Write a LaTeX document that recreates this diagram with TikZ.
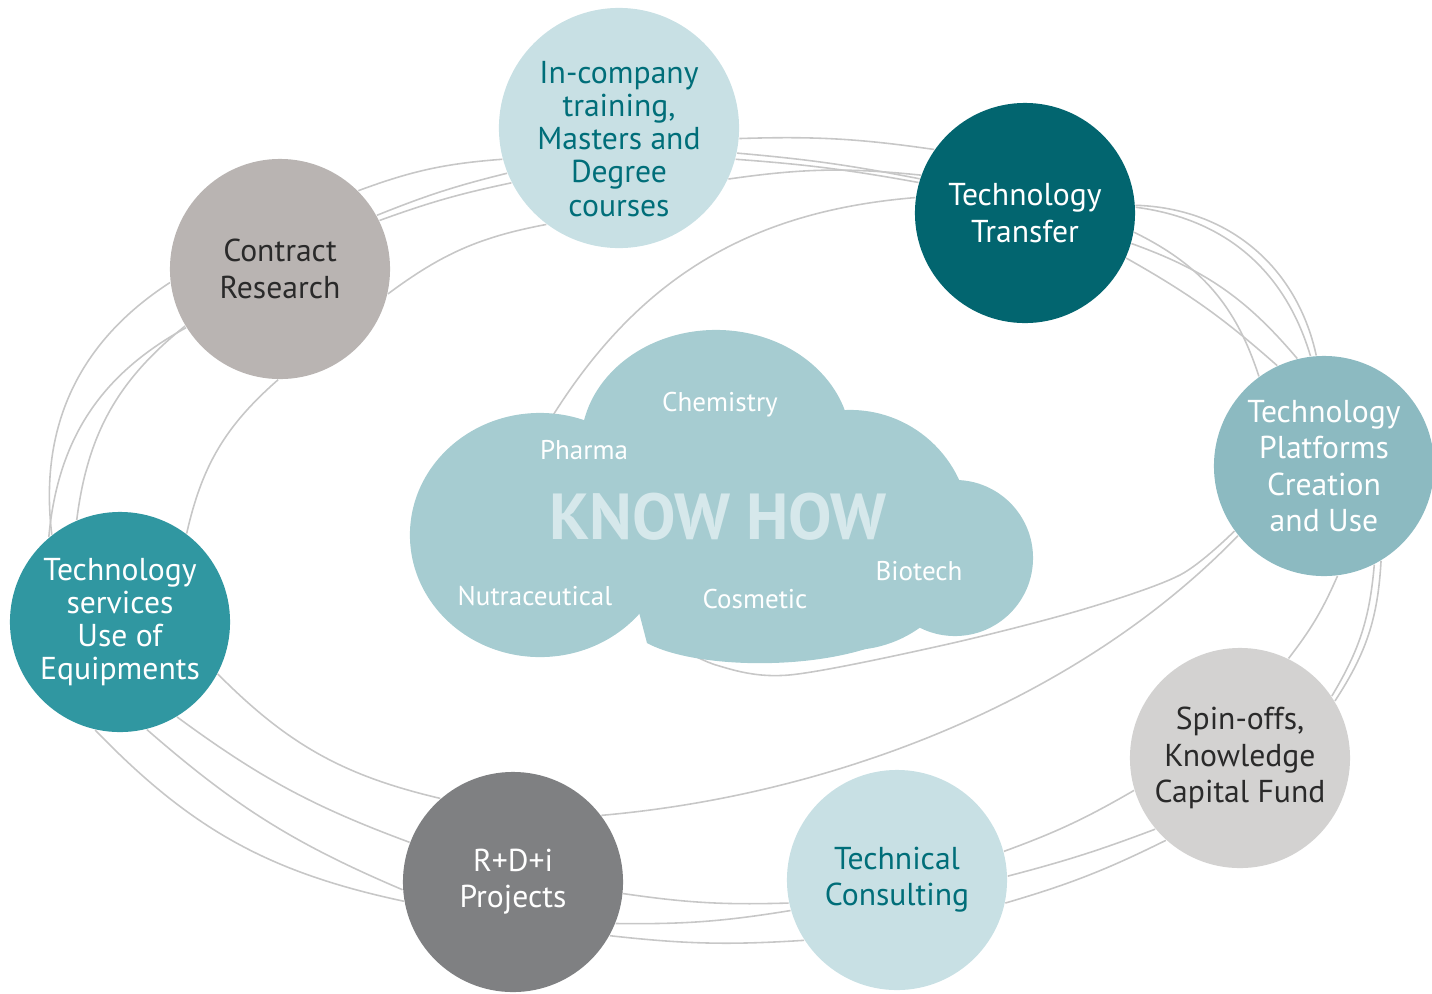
\documentclass[tikz,border=0pt]{standalone}
\usepackage{fontspec}
\setmainfont{PT Sans}
\usepackage{tikz}
\usetikzlibrary{backgrounds}

\definecolor{cloudblue}{HTML}{A6CCD1}
\definecolor{paleblue}{HTML}{C8E0E4}
\definecolor{deepteal}{HTML}{02656F}
\definecolor{midteal}{HTML}{3097A1}
\definecolor{softteal}{HTML}{8CBAC1}
\definecolor{warmgrey}{HTML}{B9B4B2}
\definecolor{lightgrey}{HTML}{D3D2D1}
\definecolor{darkgrey}{HTML}{7F8082}
\definecolor{inkteal}{HTML}{006E79}
\definecolor{inkgrey}{HTML}{2A2A2A}
\definecolor{knowhow}{HTML}{D6E8EB}

\begin{document}
\begin{tikzpicture}[x=0.01cm,y=-0.01cm,
		orbit/.style={draw=black!22,line width=0.45pt},
		bubble/.style={circle,minimum size=2.2cm,inner sep=0pt,align=center,font=\fontsize{9}{10.3}\selectfont},
		field/.style={text=white,font=\fontsize{7.7}{9}\selectfont}]
	\useasboundingbox (0,0) rectangle (1432,993);
	\node[bubble,fill=paleblue,minimum size=2.4cm] (train) at (619,128) {};
	\node[text=inkteal,align=center,font=\fontsize{9}{9.4}\selectfont] (trainlabel) at (619,139) {In-company\\training,\\Masters and\\Degree\\courses};
	\node[bubble,fill=deepteal,text=white] (transfer) at (1025,213) {Technology\\Transfer};
	\node[bubble,fill=warmgrey,text=inkgrey] (contract) at (280,269) {Contract\\Research};
	\node[bubble,fill=softteal,text=white] (platforms) at (1324,466) {Technology\\Platforms\\Creation\\and Use};
	\node[bubble,fill=midteal,text=white,font=\fontsize{9}{9.4}\selectfont] (services) at (120,622) {Technology\\services\\Use of\\Equipments};
	\node[bubble,fill=lightgrey,text=inkgrey] (spinoffs) at (1240,758) {Spin-offs,\\Knowledge\\Capital Fund};
	\node[bubble,fill=paleblue,text=inkteal] (consulting) at (897,880) {Technical\\Consulting};
	\node[bubble,fill=darkgrey,text=white] (projects) at (513,882) {R+D+i\\Projects};
	\begin{scope}[on background layer]
		\draw[orbit] (services.128) to[bend left=32] (contract.187);
		\draw[orbit] (services.130) to[bend left=28] (contract.212);
		\draw[orbit] (services.113) to[bend left=22] (contract.211);
		\draw[orbit] (services.53) to[bend left=18] (contract.269);
		\draw[orbit] (contract.45) to[bend left=8] (train.195);
		\draw[orbit] (contract.29) to[bend left=4] (train.202);
		\draw[orbit] (contract.26) to[bend left=4] (train.207);
		\draw[orbit] (contract.-13) to[bend left=13] (train.233);
		\draw[orbit] (train.-5) to[bend left=5] (transfer.145);
		\draw[orbit] (train.-12) to[bend left=3] (transfer.162);
		\draw[orbit] (train.-15) to[bend left=3] (transfer.164);
		\draw[orbit] (train.-25) to[bend left=7] (transfer.160);
		\draw[orbit] (547,425) to[bend left=27] (transfer.172);
		\draw[orbit] (transfer.4) to[bend left=38] (platforms.94);
		\draw[orbit] (transfer.3) to[bend left=33] (platforms.97);
		\draw[orbit] (transfer.-10) to[bend left=23] (platforms.126);
		\draw[orbit] (transfer.-16) to[bend left=15] (platforms.104);
		\draw[orbit] (transfer.-24) to[bend left=6] (platforms.115);
		\draw[orbit] (platforms.-59) to[bend left=15] (spinoffs.31);
		\draw[orbit] (platforms.-63) to[bend left=13] (spinoffs.34);
		\draw[orbit] (platforms.-83) to[bend left=7] (spinoffs.64);
		\draw[orbit] plot[smooth] coordinates {(platforms.216) (1180,575) (1081,610) (944,645) (789,675) (716,665) (655,635)};
		\draw[orbit] (platforms.219) to[out=226,in=5,looseness=0.85] (projects.37);
		\draw[orbit] (spinoffs.197) to[bend left=5] (consulting.15);
		\draw[orbit] (spinoffs.220) to[bend left=3] (consulting.2);
		\draw[orbit] (spinoffs.228) to[bend left=5] (consulting.-12);
		\draw[orbit] (consulting.192) to[bend left=5] (projects.-6);
		\draw[orbit] (consulting.196) to[bend left=5] (projects.-22);
		\draw[orbit] (consulting.213) to[bend left=5] (projects.-29);
		\draw[orbit] (projects.131) to[bend left=16] (services.332);
		\draw[orbit] (projects.159) to[bend left=8] (services.301);
		\draw[orbit] (projects.184) to[bend left=9] (services.284);
		\draw[orbit] (projects.190) to[bend left=17] (services.257);
		\fill[cloudblue] (540,535) ellipse[x radius=1.3cm,y radius=1.22cm];
		\fill[cloudblue] (716,445) ellipse[x radius=1.35cm,y radius=1.15cm];
		\fill[cloudblue] (850,530) circle[radius=1.2cm];
		\fill[cloudblue] (955,558) circle[radius=0.78cm];
		\fill[cloudblue] (587,413) -- (846,410) -- (962,483) -- (910,628) .. controls (850,672) and (700,672) .. (647,643) -- cycle;
	\end{scope}
	\node[text=knowhow,font=\fontsize{18.5}{20}\selectfont\bfseries] (know) at (718,517) {KNOW HOW};
	\node[field] (chem) at (720,405) {Chemistry};
	\node[field] (pharma) at (584,450) {Pharma};
	\node[field] (nutra) at (535,596) {Nutraceutical};
	\node[field] (cosm) at (755,599) {Cosmetic};
	\node[field] (bio) at (919,571) {Biotech};
\end{tikzpicture}
\end{document}
